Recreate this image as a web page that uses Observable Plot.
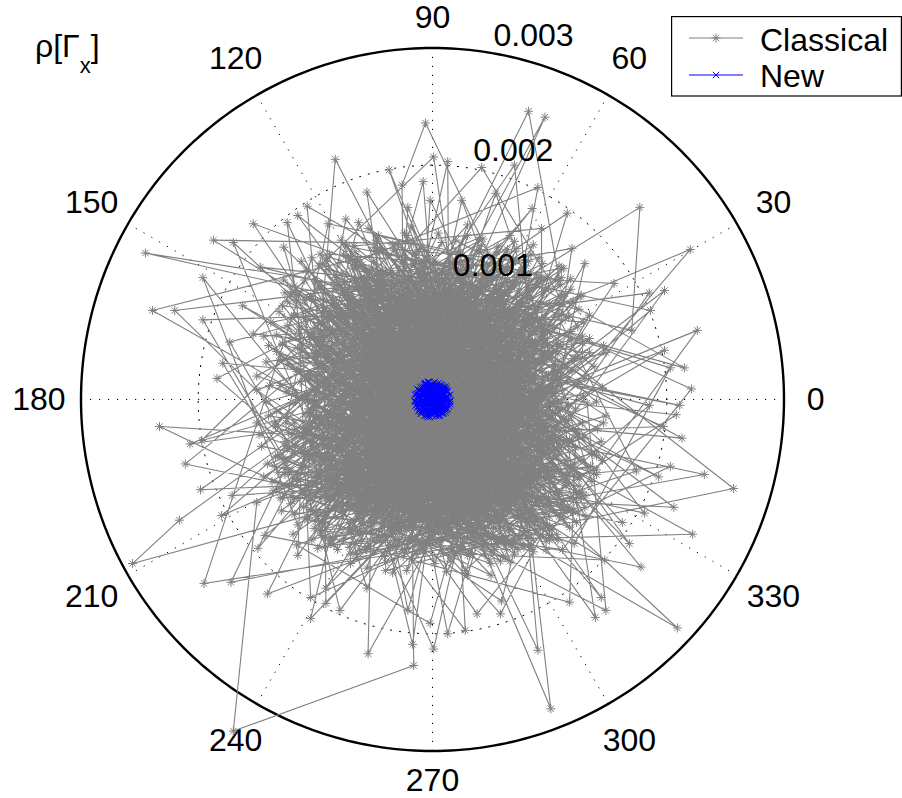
<!DOCTYPE html>
<html>
<head>
<meta charset="utf-8">
<script src="https://cdn.jsdelivr.net/npm/d3@7"></script>
<script src="https://cdn.jsdelivr.net/npm/@observablehq/plot@0.6"></script>
<style>
html, body { margin: 0; padding: 0; background: #fff; overflow: hidden; }
#wrap { position: relative; width: 902px; height: 798px; font-family: "Liberation Sans", Arial, Helvetica, sans-serif; }
#wrap svg.overlay { position: absolute; overflow: visible; }
</style>
</head>
<body>
<div id="wrap"></div>
<script>
// ---------------- data ----------------
const UNIT = 1e-5;                      // stored values are in units of 1e-5
const rMax = 0.003;                     // outer circle
const ringTicks = [0.001, 0.002, 0.003];
const angleTicks = [0, 30, 60, 90, 120, 150, 180, 210, 240, 270, 300, 330];
const seriesNames = ["Classical", "New"];

// Classical: x = rho*cos(theta), y = rho*sin(theta), pairs in 1e-5 units
const classicalXY = [
12,-45, -87,33, 64,91, -6,236, -26,183, -23,-110, 105,-12, -56,78, 31,-67, -198,-77, -118,-20, 47,125, -9,5,
92,-84, -34,-58, 71,22, 211,-5, -101,61, 18,-96, -66,-95, 128,40, -245,125, -12,88, 54,-31, -79,-7,
3,117, 83,-60, -45,26, 177,164, 170,59, 110,73, -97,-48, 26,-128, -4,-19, 90,-214, 67,48, -130,12, 39,-82,
-61,104, 99,8, -25,-77, -256,-140, -216,-103, 14,63, -88,-86, 121,-55, -42,126, -239,76, 75,-102, -115,44, 8,-38,
57,5, -70,-29, 34,98, 257,-76, -14,-132, 115,27, -51,55, 86,-120, -83,205, -107,-75, 22,36, -36,92,
126,-80, -93,16, 41,-14, -150,-88, -170,-283, -16,-227, -19,71, 80,114, -124,-42, 63,-89, 198,93, -2,-60, -72,121, 104,-35,
-40,-118, 17,84, -109,85, -153,150, 96,59, -57,-4, 48,-57, -85,-59, 148,-180, 132,-3, 6,27, -28,-89,
73,-128, -120,70, 29,119, 96,241, -64,-113, 112,88, -8,-24, 52,-110, -211,-55, -99,36, 88,18, -47,107,
10,-71, -133,-10, 61,77, 101,-264, -31,49, 100,-71, -76,-119, 37,-5, -187,136, -16,133, 122,-27, -53,-36,
81,40, -95,95, 21,-106, 220,128, -68,8, 118,58, -11,-94, 58,109, -115,-133, -112,-58, 44,-40, -26,17,
95,-105, -41,-66, 5,101, -107,165, -83,-100, 69,2, -118,97, 33,-120, 222,-115, -60,40, 113,-96, -3,-7,
-90,70, 49,67, -22,-124, -233,-23, 108,-44, -74,-36, 15,124, 91,-18, 70,200, -128,-84, 27,-59, -50,118,
124,13, -7,-100, -99,-17, 209,-195, 76,-71, -35,87, 60,27, -115,-107, -196,104, 2,-140, 89,101, -64,-60,
40,56, -131,33, 102,-111, 226,59, -18,-40, 72,129, -84,-9, 19,-85, -55,-217, -47,135, 117,-63, -108,-30,
54,84, -29,-104, 130,-32, -115,157, -71,96, 9,-52, -123,-64, 85,37, 213,-33, -44,-10, 24,110, -96,-112,
66,-93, -13,62, -81,-78, 82,246, 109,98, -58,17, 38,-26, -103,121, -195,-157, 77,-115, -5,44, 127,-52,
-37,-127, 93,69, -92,-40, 28,-197, 12,92, 57,-77, -125,7, 43,137, -184,18, -63,-87, 119,25, -21,-56,
82,-40, -48,73, 30,-133, 185,91, -105,53, 99,-84, -15,115, 65,-8, -104,-187, -88,-120, 16,-23, -69,28,
110,104, -33,-83, 46,-100, 1,207, -121,90, 78,48, -1,-116, -56,104, 206,-92, 123,-88, -94,-50, 35,79,
-80,-15, 62,-135, -27,38, -207,-38, 105,7, -110,-92, 28,52, -67,131, 93,146, 94,-58, -10,-80, 49,22,
-126,-36, 71,118, -43,-98, 178,-143, 86,-32, -17,78, 129,66, -98,-77, -124,151, 7,-120, 59,88, -75,58,
114,-68, -52,-22, 20,136, 215,27, -89,111, 97,-121, -30,3, 68,57, -2,-191, -116,-124, 42,-72, -6,99,
88,-11, -133,55, 11,-32, -170,134, -62,-129, 120,84, -38,64, 75,-92, 232,-64, -101,7, 31,107, -84,-66,
103,42, -24,-128, 53,-49, 115,159, -119,-3, 84,124, -70,-111, 16,70, -180,-99, -45,-41, 131,-100, -11,128,
-106,-82, 44,-18, -57,89, 139,-186, 112,-16, -91,120, 26,-92, 90,77, -196,68, -127,-49, 61,-123, -20,30,
70,97, -113,15, 4,-75, 186,76, -49,127, 101,-54, -78,-94, 39,41, -21,-180, -34,-113, 118,103, -65,-25,
23,-45, -100,101, 87,-98, -37,196, -8,112, -122,-72, 66,14, -41,-134, 174,-61, 107,71, -86,46, 50,-130,
-14,-33, 125,-74, -59,81, -172,-156, 36,-115, -97,-99, 80,89, -28,-60, 54,176, 116,-5, -76,124, 13,-97,
-104,68, 56,131, -39,-75, 58,-183, 98,-107, -117,-39, 25,95, 72,-62, -127,130, -54,-125, 134,40, -3,-48,
-82,31, 47,-88, -23,121, 221,9, 111,-128, -129,-95, 63,64, -5,-84, -91,-174, -93,86, 85,-23, -36,53,
120,-96, -66,-132, 30,29, -74,154, -111,-55, 79,107, -19,-102, 51,-115, 208,-13, -87,19, 104,61, -48,-79,
18,-118, -124,84, 93,-44, 119,129, -42,100, 63,-103, -134,-23, 8,134, -141,-166, 76,-83, -72,-47, 108,114,
-29,-16, 55,126, -95,-116, 117,-173, 122,-41, -12,76, 44,-123, -109,102, -153,56, 89,31, -60,-102, 1,60,
97,-128, -52,113, 34,-54, 198,42, -120,-80, 115,16, -25,-134, 69,97, -56,-161, -99,-13, 27,-86, -73,131,
127,89, -87,-123, 14,45, 13,203, -44,-55, 100,-91, -128,47, 58,-11, 168,-123, -7,118, 83,-126, -115,-67,
40,-102, -61,-69, 119,51, -197,-35, -33,127, 73,-37, -106,-102, 22,83, 85,163, -83,-33, 131,-82, -15,-125,
64,110, -96,53, 9,-131, 147,-137, -50,-12, 107,-120, -135,-57, 45,66, -147,113, -22,100, 92,-75, -71,-91,
32,-62, -112,118, 81,-105, 130,116, -4,-110, -78,107, 128,-20, -43,-117, 1,-213, 59,43, -101,-110, 17,39,
96,-63, -69,-53, 24,125, -89,150, -125,-20, 117,-109, -37,79, 67,-124, 203,-57, -90,-83, 10,-66, -58,94,
113,30, -17,-90, 48,104, -149,-127, -102,-36, 87,-88, -131,75, 37,-100, 90,181, -64,118, 125,-68, -8,-14,
-94,-104, 78,82, -35,-109, 59,-172, 102,-2, -55,65, 19,-133, -118,-46, -173,49, 91,121, -26,-71, 55,-24,
-127,102, 66,-112, -10,91, 203,27, 121,-123, -86,-58, 35,115, -46,-92, -91,-161, 109,45, -119,-115, 6,-28,
75,-52, -67,103, 28,-77, -63,151, -108,-27, 99,96, -31,-126, 52,11, 193,-66, -93,72, 118,-84, -18,-97,
42,132, -132,-62, 86,-64, -171,-82, -53,26, 13,-115, -76,-89, 124,62, 42,198, -40,108, 70,-132, -104,-1,
20,86, -61,-121, 106,-115, 144,-169, -97,114, 58,-46, -21,-87, 129,3, -179,31, -81,-128, 46,71, -39,-25,
100,-120, -123,-28, 31,-91, 155,99, -68,112, 85,56, -9,-126, -114,60, -104,-169, 60,-95, -45,129, 117,-35,
-88,-73, 39,93, -16,-104, -56,177, 123,-105, -105,22, 74,-117, -51,-45, 181,-97, 15,118, 93,-41, -133,41,
53,-128, -30,67, 108,83, -143,-116, -92,-126, 3,-93, -65,9, 114,-71, 25,170, -36,-112, 69,120, -121,-89,
25,-17, -79,117, 98,-108, 38,-183, -48,-61, 84,36, -103,-120, 11,104, -220,76, -57,-83, 135,-57, -13,82,
70,-85, -116,24, 43,-126, 185,-5, -27,51, 110,-90, -84,95, 18,-50, -79,-180, -99,-96, 90,106, -42,-7,
35,-20, -48,41, 12,-66, -8,186, -70,-38, 57,60, -25,15, 74,-9, 162,-105, -5,-72, -61,66, 44,-51,
-77,-12, 20,48, 66,-44, -21,164, -36,-64, 2,35, -54,-30, 78,23, 13,-200, -17,-47, 49,75, -68,54,
29,-78, -42,8, 63,38, -2,170, -9,60, -73,-58, 55,-13, -28,79, 197,-23, 16,-30, -59,-70, 71,49,
-3,-55, 40,16, -65,27, -162,80, 24,-40, -46,70, 68,-66, -21,-22, 52,81, -79,-2, 7,-79,
60,-29, -33,52, 15,20, -17,-209, -56,-49, 77,-5, -11,73, 37,-60, -75,38, 45,30, -22,-76,
50,-72, -64,-18, 32,64, -8,-36, 69,11, -44,56, 21,-54, -71,-75, 58,43, -30,-8,
11,77, -52,-67, 73,-35, -37,31, 42,-81, -80,19, 27,5, -15,-61, 65,70, -58,-45,
38,-49, -69,80, 4,-17, 61,-57, -26,44, 79,29, -50,-24, 14,-73, -40,65, 72,-20,
-63,10, 30,-35, -19,85, 53,-79, -74,-27, 8,52, 47,-6, -32,-80, 76,57, -55,36,
23,-64, -43,-52, 59,18, -12,29, 67,-47, -66,73, 35,-28, -1,69, -78,-61, 46,-41,
44,-18, -91,37, 27,83, -62,-70, 103,-30, -15,-98, 70,58, -100,-9, 8,47, 57,-86,
-38,92, 86,19, -75,-55, 21,-60, -5,104, 95,-47, -52,12, 36,-101, -88,60, 62,31,
-27,-35, 79,-71, -106,22, 14,95, 49,-40, -69,83, 101,8, -33,-90, 3,-22, -80,-41,
66,76, -17,56, 40,-99, -96,-33, 90,41, -57,-88, 25,11, -44,99, 105,-25, -72,5,
10,-83, -98,49, 58,-64, -23,28, 74,91, -65,-16, 31,-108, -108,-26, 83,-9, -8,71,
51,46, -81,-73, 97,-58, -39,61, 16,-44, -78,71, 72,-88, -12,-12, 46,102, -60,-97,
88,-65, -30,83, -4,-70, 107,18, -86,-27, 39,67, -53,-58, 64,-27, -109,4, 22,-95,
-46,34, 94,60, -62,84, 6,-105, 55,-9, -20,44, 81,-80, -99,-61, 33,90, -63,-28,
12,63, -89,-48, 104,-4, -41,-102, 68,37, -7,81, 47,-75, -77,70, 92,-34, -26,-52,
-103,-40, 35,-15, -58,104, 70,-84, -16,2, 98,52, -49,-79, 17,-106, -84,25, 61,84,
30,-56, -67,-93, 85,14, -2,92, -95,-18, 59,-99, -35,9, 100,37, -73,-82, 42,69,
-11,-80, 76,-43, -55,79, 24,-26, -101,53, 74,-75, -29,-109, 52,88, -86,-4, 5,40,
93,-21, -45,-67, 18,108, -79,-59, 63,-53, -6,-36, 106,-41, -60,94, 37,-89, -97,31,
55,24, -24,-94, 62,-84, -88,71, 14,-58, -48,25, 96,-69, -13,66, 45,-110, -102,-52,
80,63, -34,-45, 9,77, -71,-36, 102,-16, -52,103, 28,-77, -80,-74, 65,7, -18,32,
-8,-101, 91,30, -64,62, 41,-36, -105,-12, 19,99, 73,-78, -42,-70, 84,48, -31,91,
107,-48, -77,-24, 31,56, -19,-88, 64,100, -99,42, 48,-62, -9,13, -50,-94, 88,-7,
-66,45, 26,-103, -92,-68, 99,21, -40,77, 4,-50, 62,-90, -70,81, 39,18, -22,-64,
83,-32, -51,-13, 13,-91, -108,35, 57,70, -34,104, 82,-71, -74,-50, 20,28, -2,-108,
-89,10, 67,-58, -12,85, 46,-24, -61,-85, 88,58, -37,-33, 9,110, 78,-90, -88,-59,
16,-16, -70,88, 89,-39, -46,-96, 32,75, -100,-30, 52,-94, -25,56, 104,22, -55,-7,
73,-81, -14,36, -97,60, 43,-84, 9,-59, -61,101, 94,-14, -30,-73, 54,58, -86,-51,
-40,15, 101,-62, -18,-106, 68,96, -83,-15, 27,-45, -58,68, 70,-86, -7,99, 49,-29,
-76,-77, 36,43, -2,-79, 79,9, -72,-65, 22,104, 60,-69, -44,87, 109,-9, -20,-27,
48,-95, -106,-1, 75,31, -31,-108, 12,60, -66,-78, 74,76, -52,46, 3,-34, 99,-55,
-76,-18, 24,84, 58,-90, -39,-43, 95,11, -11,110, -80,69, 53,-13, -27,-86, 82,71,
-48,-64, 14,27, 86,-52, -92,76, 41,-106, -3,69, 70,-2, -66,-83, 33,-39, -63,15,
58,86, -106,-48, 19,-71, -24,102, 90,-62, -56,-32, 44,45, -87,44, 7,-93, 75,-37,
-15,52, 74,-80, -67,-8, 44,96, -37,-61, 97,34, -90,55, 26,-18, -60,-89, 10,88,
85,-12, -47,96, 61,-44, -82,-66, 18,39, -21,-103, 95,48, -73,24, 37,-66, -5,-5,
-58,-45, 84,65, -28,106, 71,-27, -96,-50, 44,18, -8,-84, 56,-97, -72,72, 21,64,
100,-38, -35,-16, 8,101, -78,-40, 63,60, -46,-96, 34,-52, -99,7, 87,-79, -17,79,
42,-9, -64,-97, 90,50, -12,-43, -72,79, 67,-88, -40,38, 15,-101, 81,26, -69,-66,
-23,-76, 54,93, -88,-19, 110,-3, -50,78, 29,-64, -82,-73, 76,-51, -6,107, 47,10,
-82,49, 19,-35, 74,-78, -36,55, 66,31, -60,-27, 2,-95, 76,73, -105,-35, 32,-81,
59,15, -26,72, 84,-70, -97,-55, 11,-56, -44,108, 104,-44, -69,-5, 40,69, -14,-100,
-101,20, 62,-86, -9,30, 52,-43, -76,91, 26,105, -54,-83, 96,2, -32,-21, 64,-65,
6,-41, -72,-71, 79,54, -43,-105, 103,-60, -63,39, 38,-94, -19,61, 91,-31, -107,-47,
48,82, -30,-53, 58,-91, -94,43, 16,15, -49,-91, 107,39, -72,76, 1,-73, 60,-17,
-35,100, 79,-71, -83,-32, 29,-79, -10,58, 78,16, -52,-92, 45,-60, -85,60, 60,88,
23,-100, -45,-5, 88,-56, -80,63, 7,82, 62,-31, -88,-66, 35,-24, -20,94, 76,-75,
-68,-89, 50,35, -93,29, 14,-111, 82,72, -38,-40, 95,-27, -57,100, 27,-58, -12,12,
71,-74, -98,-66, 4,51, -43,-79, 109,-34, -75,58, 41,97, -25,-93, 87,3, -62,-17,
-5,-62, 97,64, -53,-47, 31,-88, -80,75, 68,-14, -28,76, 57,-103, -85,-40, 13,33,
65,-88, -39,29, 18,-46, -72,-78, 53,49, -70,9, 84,-68, -16,-66, 43,106, -101,-20,
34,-70, -61,85, 99,-14, -22,-34, -84,-71, 62,81, -47,-100, 10,57, 75,-47, -95,54,
-33,-109, 90,33, -7,-19, 46,-92, -69,48, 86,-65, -52,-59, 21,91, -106,-8, 66,-43,
2,103, -79,-33, 58,-61, -41,71, 94,58, -18,-87, 36,-13, -74,-74, 70,-76, -59,27,
69,44, -27,-71, 107,-21, -56,91, 19,-100, -100,40, 51,-38, -15,29, 86,-72, -45,-90,
-88,-13, 40,-107, -3,70, 92,11, -57,-36, 25,-53, -82,81, 65,94, -36,-97, 92,-55,
17,4, -73,-55, 72,-78, -46,43, 9,-104, 98,47, -92,-52, 42,-31, -20,88, 61,-81,
-92,2, 32,60, -14,-57, 77,-44, -55,96, 80,-75, -38,-24, 6,-88, 72,82, -85,-82,
45,-52, -25,109, 93,-66, -67,-14, 30,-95, -103,57, 64,23, -8,-39, 52,-105, -77,33,
-50,-102, 88,-3, -6,48, 40,-72, -97,-45, 71,65, -34,58, 103,-33, -63,-92, 24,-20,
76,-59, -44,-28, 11,94, -88,-78, 59,-100, -12,18, 96,40, -73,92, 38,-46, -104,-14,
-26,-58, 58,88, -94,66, 49,-81, -1,-96, 85,-67, -59,1, 28,45, -64,-85, 107,12,
54,-32, -19,83, -109,-28, 66,-82, -42,-79, 15,-9, 70,67, -66,96, 36,-100, -3,-25,
-74,68, 95,-44, -31,-98, 60,11, -86,-57, 26,78, -55,-40, 90,-52, -10,105, 44,-64,
63,-14, -86,43, 22,-87, -47,89, 74,-76, -69,-83, 8,-68, 79,41, -36,25, -99,-2,
31,97, -63,-60, 101,-17, -20,-45, 47,-99, -72,72, 73,-35, -7,61, -51,-108, 86,70,
120,35, -78,-96, 40,128, -135,-20, 88,-102, -60,115, 140,-48, -110,70, 15,-138, 95,92,
-125,-58, 62,-121, -30,132, 130,18, -92,-99, 108,77, -142,32, 25,-127, -70,-112, 76,110,
136,-70, -104,88, 50,-140, -18,-118, 117,-34, -131,-76, 82,118, -50,130, 145,10, -88,-58,
5,142, 112,-92, -139,12, 66,-83, -96,124, 128,54, -40,-139, 98,-60, -118,-98, 33,120,
-75,100, 141,-25, -57,-128, 92,104, -128,48, 18,-99, 124,-96, -108,-12, 70,135, -22,-146,
105,30, -141,-55, 44,-112, -70,120, 132,-58, -100,-104, 58,96, -15,125, 100,-100, -126,91,
86,-130, -64,-84, 148,40, -120,-30, 30,140, -45,-120, 110,112, -138,66, 72,-74, -94,116,
122,-8, -34,-148, 64,128, -112,-78, 100,-112, -86,80, 145,-52, -10,102, -116,-68, 48,-136,
-142,-2, 90,62, -55,146, 127,-84, -98,-127, 20,118, 138,28, -70,-140, 114,-74, -105,87,
38,-105, -112,44, 68,-124, -134,-49, 126,88, -28,-112, 96,-98, -66,126, 148,-14, -104,-86,
60,112, -140,-14, 114,-52, -48,136, 12,-147, 134,72, -104,-94, 72,102, -88,68, 87,-107,
-26,118, 144,-36, -96,-112, 55,-124, -128,80, 106,48, -62,-98, 30,149, -146,-40, 90,-84,
115,-92, -74,132, 42,-92, -137,-70, 118,94, -18,-136, 82,-118, -114,26, 140,-64, -42,108,
-92,-104, 66,140, -150,20, 104,-66, -36,-126, 124,36, -82,104, 14,-112, 84,108, -130,-84,
128,-79, -56,-144, 26,104, -120,92, 116,-18, -90,-84, 50,-150, -144,54, 86,74, -8,-130,
65,-121, -126,-40, 112,112, -70,-106, 140,-2, -22,140, 64,-96, -116,85, 100,-38, -83,-117,
22,126, 112,-102, -112,62, 58,-138, -150,-20, 94,116, -44,-110, 146,46, -84,-124, 36,-118,
-130,38, 108,-80, -18,148, 84,-126, -102,-82, 125,77, -66,114, 28,-146, 120,-58, -119,-85,
96,38, -71,-126, 62,126, -104,-95, 119,-94, -34,132, 78,-86, -118,-26, 110,90, -56,-128,
10,-114, -124,63, 100,-116, -88,124, 44,114, -126,-64, 126,-66, -60,92, 78,-126, -112,-46,
134,52, -40,-146, 70,-118, -140,46, 108,-100, -78,136, 34,-132, -109,-102, 116,70, -16,116,
-98,96, 140,-60, -62,-114, 86,132, -148,-30, 54,-102, 124,-30, -108,110, 30,-150, 100,82,
-136,-78, 63,-128, -26,128, 130,-92, -92,-118, 95,102, -150,8, 46,-124, 82,96, -70,-132,
146,-20, -118,72, 40,138, -87,-119, 136,-46, -52,-106, 98,104, -132,-48, 66,-138, -24,142,
100,-109, -80,98, 20,-118, -144,-66, 107,102, -46,140, 92,-110, -124,30, 128,48, -94,-108
];

// New: tight cluster near the origin, pairs in 1e-5 units
const newXY = [
3,-5, -8,7, 12,2, -4,-11, 6,9, -13,-3, 1,14, 9,-8, -10,4, 5,-1,
-2,10, 14,-6, -7,-9, 8,5, -14,5, 0,-14, 11,11, -5,2, 4,-12, -12,-10,
13,7, -6,13, 2,-3, -11,-6, 6,-14, -3,8, 15,-1, -9,11, 10,-10, -1,-7,
-14,1, 5,14, -5,-13, 10,-10, -8,-1, 3,6, -13,-7, 9,1, -4,15, 15,4,
-7,-4, 4,-9, -13,9, 11,-3, 0,3, -9,-12, 8,12, -2,-15, 12,8, -6,5,
5,-6, -10,10, 8,-12, -1,11, -15,-2, 7,3, -3,-10, 13,-8, -7,13, 2,-11,
-11,0, 11,8, -4,-5, 6,-2, -8,10, 8,-11, -11,-9, 1,9, 9,-5, -6,14,
8,8, -15,4, 3,-8, -7,-14, 14,1, -2,5, 11,-11, -10,-7, 4,13, -10,-10,
0,-2, 10,6, -5,12, 15,-4, -9,-10, 6,-13, -12,8, 2,15, 12,-7, -3,-1,
7,-9, -11,8, 13,3, -5,-14, 1,-4, -14,-5, 9,10, -1,13, 11,-9, -8,3,
4,2, -10,-12, 9,11, -4,7, 15,-2, -12,-1, 5,-14, -7,11, 8,-3, -14,-5,
2,12, 12,-9, -9,6, 3,-14, -10,10, 10,0, -2,-9, 10,9, -5,-3, 6,7,
-11,-9, 9,-12, -3,15, 13,7, -11,-8, 1,1, 7,-7, -6,10, 9,-11, -15,-1,
5,11, -8,-7, 11,5, -1,-12, -12,4, 12,-7, -4,-15, 7,13, -12,8, 3,-6,
10,-1, -6,-11, 0,8, -10,-3, 12,10, -3,-14, 6,-10, -13,2, 2,4, -6,14
];

// ---------------- build ----------------
function toPoints(flat) {
  const out = [];
  for (let i = 0; i + 1 < flat.length; i += 2) out.push({x: flat[i] * UNIT, y: flat[i + 1] * UNIT});
  return out;
}
const classical = toPoints(classicalXY);
const fresh = toPoints(newXY);

const rad = (a) => a * Math.PI / 180;
const circle = (r) => d3.range(0, 361, 1).map(a => ({x: r * Math.cos(rad(a)), y: r * Math.sin(rad(a)), r}));
const innerRings = ringTicks.filter(r => r < rMax).flatMap(circle);
const outerRing = circle(rMax);
const spokes = angleTicks.filter(a => a < 180);
// angle-label distance (as a multiple of rMax); the 0/90/270 labels sit a little closer
const labelFactor = a => (a === 90 || a === 270) ? 1.085 : a === 0 ? 1.09 : 1.12;

const asterisk = {
  draw(ctx, size) {
    const r = Math.sqrt(size / Math.PI), d = r * Math.SQRT1_2;
    ctx.moveTo(-r, 0); ctx.lineTo(r, 0);
    ctx.moveTo(0, -r); ctx.lineTo(0, r);
    ctx.moveTo(-d, -d); ctx.lineTo(d, d);
    ctx.moveTo(-d, d); ctx.lineTo(d, -d);
  }
};
const cross = {
  draw(ctx, size) {
    const d = Math.sqrt(size / Math.PI) * Math.SQRT1_2;
    ctx.moveTo(-d, -d); ctx.lineTo(d, d);
    ctx.moveTo(-d, d); ctx.lineTo(d, -d);
  }
};

const FONT = "'Liberation Sans', Arial, Helvetica, sans-serif";
const GRAY = "#808080", BLUE = "#0000ff";
const W = 902, H = 798, CX = 432, CY = 399, R = 351.5;

const chart = Plot.plot({
  width: W, height: H,
  marginLeft: CX - R, marginRight: W - (CX + R),
  marginTop: CY - R, marginBottom: H - (CY + R),
  x: {domain: [-rMax, rMax], axis: null},
  y: {domain: [-rMax, rMax], axis: null},
  style: {background: "white", fontFamily: FONT, overflow: "visible"},
  marks: [
    // grid
    Plot.link(spokes, {
      x1: a => -rMax * Math.cos(rad(a)), y1: a => -rMax * Math.sin(rad(a)),
      x2: a => rMax * Math.cos(rad(a)), y2: a => rMax * Math.sin(rad(a)),
      stroke: "#000", strokeWidth: 1, strokeDasharray: "1.2,7.8"
    }),
    Plot.line(innerRings, {x: "x", y: "y", z: "r", stroke: "#000", strokeWidth: 1, strokeDasharray: "1.2,7.8"}),
    Plot.line(outerRing, {x: "x", y: "y", stroke: "#000", strokeWidth: 2.4}),
    Plot.text(angleTicks, {
      x: a => labelFactor(a) * rMax * Math.cos(rad(a)), y: a => labelFactor(a) * rMax * Math.sin(rad(a)),
      text: a => String(a), fontSize: 32, fontFamily: FONT, fill: "#000"
    }),
    // Classical
    Plot.line(classical, {x: "x", y: "y", stroke: GRAY, strokeWidth: 1.1}),
    Plot.dot(classical, {x: "x", y: "y", symbol: asterisk, r: 4.5, stroke: GRAY, fill: "none", strokeWidth: 1}),
    // New
    Plot.line(fresh, {x: "x", y: "y", stroke: BLUE, strokeWidth: 1}),
    Plot.dot(fresh, {x: "x", y: "y", symbol: cross, r: 4.5, stroke: BLUE, fill: "none", strokeWidth: 1}),
    // ring labels drawn above the data
    Plot.text(ringTicks, {
      x: r => (r + 0.001 / 20) * Math.cos(rad(80)), y: r => (r + 0.001 / 20) * Math.sin(rad(80)),
      text: r => String(r), textAnchor: "start", lineAnchor: "bottom",
      fontSize: 32, fontFamily: FONT, fill: "#000", dx: -1, dy: -2
    })
  ]
});

const wrap = document.getElementById("wrap");
wrap.appendChild(chart);

// y label  ρ[Γx]
const lab = document.createElementNS("http://www.w3.org/2000/svg", "svg");
lab.setAttribute("class", "overlay");
lab.setAttribute("width", "140"); lab.setAttribute("height", "90");
lab.style.left = "0px"; lab.style.top = "0px";
lab.innerHTML = `<text x="35" y="56.5" font-family="${FONT.replace(/'/g, "")}" font-size="32" fill="#000">ρ[Γ<tspan font-size="22" dy="16.5">x</tspan><tspan font-size="32" dy="-16.5">]</tspan></text>`;
wrap.appendChild(lab);

// legend
const star = "M-4.5,0H4.5M0,-4.5V4.5M-3.18,-3.18L3.18,3.18M-3.18,3.18L3.18,-3.18";
const xs = "M-3.18,-3.18L3.18,3.18M-3.18,3.18L3.18,-3.18";
const leg = document.createElementNS("http://www.w3.org/2000/svg", "svg");
leg.setAttribute("class", "overlay");
leg.setAttribute("width", "231"); leg.setAttribute("height", "81");
leg.style.left = "671px"; leg.style.top = "15.5px";
leg.innerHTML = `
  <rect x="0.6" y="0.6" width="229.8" height="79.4" fill="white" stroke="#000" stroke-width="1.2"/>
  <line x1="18" x2="72" y1="22" y2="22" stroke="${GRAY}" stroke-width="1"/>
  <path d="${star}" transform="translate(45,22)" stroke="${GRAY}" fill="none"/>
  <text x="89" y="34.5" font-family="${FONT.replace(/'/g, "")}" font-size="32" fill="#000">${seriesNames[0]}</text>
  <line x1="18" x2="72" y1="59" y2="59" stroke="${BLUE}" stroke-width="1"/>
  <path d="${xs}" transform="translate(45,59)" stroke="${BLUE}" fill="none"/>
  <text x="89" y="70.5" font-family="${FONT.replace(/'/g, "")}" font-size="32" fill="#000">${seriesNames[1]}</text>`;
wrap.appendChild(leg);
</script>
</body>
</html>
